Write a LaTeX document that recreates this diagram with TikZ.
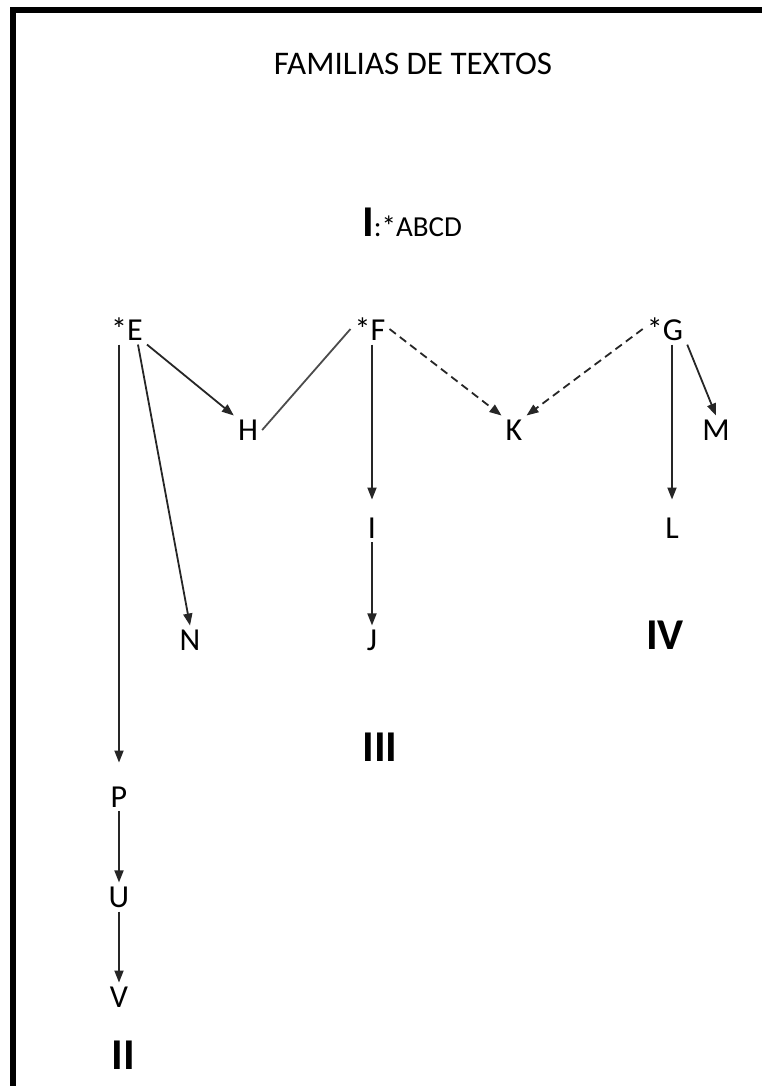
\documentclass[tikz,border=0pt]{standalone}
\usepackage{fontspec}
\setmainfont{Carlito}
\usetikzlibrary{positioning, arrows.meta}

\begin{document}
\begin{tikzpicture}[x=1pt, y=-1pt,
    lbl/.style={font=\fontsize{32}{36}\selectfont, inner sep=4pt},
    num/.style={font=\fontsize{44}{48}\selectfont\bfseries, inner sep=2pt},
    arr/.style={-{Triangle[length=12pt,width=9pt]}, line width=1.8pt, black!85},
    lnk/.style={line width=1.8pt, black!70},
    dsh/.style={arr, dash pattern=on 8pt off 5pt}]
  \useasboundingbox (0,0) rectangle (762,1086);
  % page frame
  \draw[line width=6pt] (13,1086) -- (13,10) -- (762,10);

  % title and archetype
  \node[lbl, font=\fontsize{33}{36}\selectfont] (title) at (413,64) {FAMILIAS DE TEXTOS};
  \node[lbl, inner sep=0pt, font=\fontsize{29}{32}\selectfont] (arch) at (412,222)
    {{\fontsize{44}{48}\selectfont\bfseries I}:*ABCD};

  % manuscripts
  \node[lbl] (E) at (127,329) {*E};
  \node[lbl] (F) at (370,329) {*F};
  \node[lbl] (G) at (665,329) {*G};
  \node[lbl] (H) at (248,430) {H};
  \node[lbl] (K) at (514,430) {K};
  \node[lbl] (M) at (716,430) {M};
  \node[lbl] (I) at (372,528) {I};
  \node[lbl] (L) at (672,528) {L};
  \node[lbl] (N) at (190,640) {N};
  \node[lbl] (J) at (372,640) {J};
  \node[lbl] (P) at (119,797) {P};
  \node[lbl] (U) at (119,897) {U};
  \node[lbl] (V) at (119,997) {V};

  % families
  \node[num] (fII) at (123,1055) {II};
  \node[num] (fIII) at (380,747) {III};
  \node[num] (fIV) at (665,635) {IV};

  % family II
  \draw[arr, shorten >=20pt] (E.south -| P) -- (P.north);
  \draw[arr] (E.south east) ++(-9pt,0) coordinate (e1) (e1) -- (N.north);
  \draw[arr] (E.south east) -- (H.north west);
  \draw[arr] (P) -- (U);
  \draw[arr] (U) -- (V);

  % family III
  \draw[lnk] (F.west) -- (H.east);
  \draw[arr, shorten >=14pt] (F.south -| I) -- (I.north);
  \draw[arr] (I) -- (J);
  \draw[dsh] (F.east) -- (K.north west);

  % family IV
  \draw[dsh] (G.west) -- (K.north east);
  \draw[arr, shorten >=14pt] (G.south -| L) -- (L.north);
  \draw[arr] (G.south east) -- (M.north);
\end{tikzpicture}
\end{document}
